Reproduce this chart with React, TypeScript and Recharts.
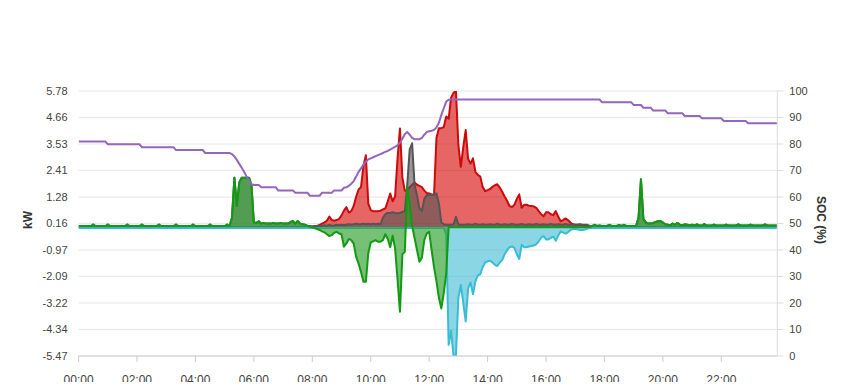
import { Area, CartesianGrid, ComposedChart, Line, XAxis, YAxis } from "recharts";

// 5-minute samples, 00:00 .. 23:55, one row per hour
const pv = [
  0, 0, 0, 0, 0, 0, 0, 0, 0, 0, 0, 0,
  0, 0, 0, 0, 0, 0, 0, 0, 0, 0, 0, 0,
  0, 0, 0, 0, 0, 0, 0, 0, 0, 0, 0, 0,
  0, 0, 0, 0, 0, 0, 0, 0, 0, 0, 0, 0,
  0, 0, 0, 0, 0, 0, 0, 0, 0, 0, 0, 0,
  0, 0, 0, 0, 0, 0, 0, 0, 0, 0, 0, 0,
  0, 0, 0, 0, 0, 0, 0, 0, 0, 0, 0, 0,
  0, 0, 0, 0, 0, 0, 0, 0, 0, 0, 0, 0,
  0, 0.02, 0.05, 0.1, 0.15, 0.2, 0.27, 0.45, 0.3, 0.27, 0.3, 0.35,
  0.5, 0.7, 0.85, 0.62, 0.68, 0.9, 1.29, 1.6, 1.7, 2.6, 3.05, 1.0,
  0.72, 0.68, 0.68, 0.68, 0.7, 0.75, 0.8, 1.1, 1.43, 1.1, 1.3, 2.9,
  4.19, 2.1, 1.55, 1.53, 1.7, 1.8, 1.9, 1.8, 1.75, 1.7, 1.55, 1.45,
  1.43, 1.38, 1.36, 3.8, 4.2, 4.2, 4.25, 4.7, 4.6, 5.5, 5.7, 5.78,
  3.49, 2.56, 3.4, 4.12, 2.9, 2.7, 2.92, 2.35, 2.22, 2.15, 1.7, 1.53,
  1.57, 1.62, 1.71, 1.78, 1.82, 1.68, 1.5, 1.3, 1.12, 0.9, 0.85, 0.95,
  1.2, 1.39, 0.82, 0.95, 0.95, 0.91, 0.9, 0.88, 0.82, 0.68, 0.55, 0.46,
  0.63, 0.63, 0.55, 0.51, 0.68, 0.45, 0.25, 0.3, 0.37, 0.3, 0.2, 0.12,
  0.1, 0.1, 0.1, 0.09, 0.07, 0.02, 0, 0, 0, 0, 0, 0,
  0, 0, 0, 0, 0, 0, 0, 0, 0, 0, 0, 0,
  0, 0, 0, 0, 0, 0, 0, 0, 0, 0, 0, 0,
  0, 0, 0, 0, 0, 0, 0, 0, 0, 0, 0, 0,
  0, 0, 0, 0, 0, 0, 0, 0, 0, 0, 0, 0,
  0, 0, 0, 0, 0, 0, 0, 0, 0, 0, 0, 0,
  0, 0, 0, 0, 0, 0, 0, 0, 0, 0, 0, 0,
];

const battery = [
  0.05, 0.05, 0.05, 0.05, 0.05, 0.05, 0.12, 0.05, 0.05, 0.05, 0.05, 0.05,
  0.12, 0.05, 0.05, 0.05, 0.05, 0.05, 0.05, 0.05, 0.12, 0.05, 0.05, 0.05,
  0.05, 0.05, 0.12, 0.05, 0.05, 0.05, 0.05, 0.05, 0.05, 0.12, 0.05, 0.05,
  0.05, 0.05, 0.05, 0.05, 0.12, 0.05, 0.05, 0.05, 0.05, 0.05, 0.05, 0.12,
  0.05, 0.05, 0.05, 0.05, 0.05, 0.05, 0.12, 0.05, 0.05, 0.05, 0.05, 0.05,
  0.05, 0.12, 0.05, 0.4, 2.1, 0.9, 1.9, 2.1, 2.1, 2.1, 2.1, 1.8,
  0.2, 0.18, 0.25, 0.15, 0.18, 0.15, 0.15, 0.15, 0.18, 0.15, 0.15, 0.18,
  0.15, 0.15, 0.15, 0.22, 0.27, 0.15, 0.27, 0.15, 0.12, 0.1, 0.05, 0.02,
  0, -0.05, -0.08, -0.12, -0.18, -0.22, -0.3, -0.38, -0.34, -0.24, -0.2, -0.27,
  -0.3, -0.83, -0.69, -0.5, -0.55, -0.7, -1.26, -1.55, -1.9, -2.32, -2.32, -1.1,
  -0.65, -0.6, -0.55, -0.62, -0.62, -0.55, -0.3, -0.5, -0.85, -0.36, -0.9, -2.2,
  -3.59, -1.15, -1.05, 1.75, 1.0, 0.05, -0.45, -0.97, -1.47, -1.3, -0.55, -0.27,
  -0.2, -0.97, -1.7, -2.3, -3.0, -3.45, -2.8, -1.96, 0, 0, 0, 0,
  0, 0, 0, 0, 0, 0, 0, 0, 0, 0, 0, 0,
  0, 0, 0, 0, 0, 0, 0, 0, 0, 0, 0, 0,
  0, 0, 0, 0, 0, 0, 0, 0, 0, 0, 0, 0,
  0, 0, 0, 0, 0, 0, 0, 0, 0, 0, 0, 0,
  0, 0, 0, 0, 0, 0, 0.02, 0.05, 0.1, 0.05, 0.07, 0.05,
  0.05, 0.05, 0.1, 0.05, 0.05, 0.05, 0.09, 0.05, 0.1, 0.05, 0.05, 0.05,
  0.05, 0.06, 0.4, 2.03, 0.35, 0.2, 0.15, 0.15, 0.18, 0.22, 0.25, 0.26,
  0.2, 0.12, 0.1, 0.08, 0.15, 0.1, 0.18, 0.1, 0.08, 0.12, 0.1, 0.08,
  0.1, 0.07, 0.12, 0.07, 0.07, 0.13, 0.07, 0.07, 0.07, 0.11, 0.07, 0.07,
  0.07, 0.07, 0.11, 0.07, 0.07, 0.07, 0.07, 0.12, 0.07, 0.07, 0.07, 0.07,
  0.11, 0.07, 0.07, 0.07, 0.07, 0.07, 0.12, 0.07, 0.07, 0.07, 0.07, 0.07,
];

const load = [
  0.05, 0.05, 0.05, 0.05, 0.05, 0.05, 0.05, 0.05, 0.05, 0.05, 0.05, 0.05,
  0.05, 0.05, 0.05, 0.05, 0.05, 0.05, 0.05, 0.05, 0.05, 0.05, 0.05, 0.05,
  0.05, 0.05, 0.05, 0.05, 0.05, 0.05, 0.05, 0.05, 0.05, 0.05, 0.05, 0.05,
  0.05, 0.05, 0.05, 0.05, 0.05, 0.05, 0.05, 0.05, 0.05, 0.05, 0.05, 0.05,
  0.05, 0.05, 0.05, 0.05, 0.05, 0.05, 0.05, 0.05, 0.05, 0.05, 0.05, 0.05,
  0.05, 0.05, 0.05, 0.4, 2.1, 0.9, 1.9, 2.1, 2.1, 2.1, 2.1, 1.8,
  0.2, 0.18, 0.25, 0.15, 0.18, 0.15, 0.15, 0.15, 0.18, 0.15, 0.15, 0.18,
  0.15, 0.15, 0.15, 0.2, 0.25, 0.15, 0.25, 0.15, 0.12, 0.1, 0.06, 0.05,
  0.04, 0.05, 0.05, 0.06, 0.05, 0.08, 0.06, 0.1, 0.06, 0.07, 0.1, 0.08,
  0.1, 0.08, 0.1, 0.12, 0.1, 0.12, 0.14, 0.12, 0.12, 0.15, 0.12, 0.14,
  0.12, 0.15, 0.12, 0.15, 0.12, 0.4, 0.55, 0.6, 0.6, 0.63, 0.6, 0.59,
  0.6, 0.65, 0.68, 1.8, 3.3, 3.56, 1.8, 1.36, 0.8, 0.68, 1.2, 1.36,
  1.36, 1.38, 1.4, 1.43, 1.0, 0.2, 0.12, 0.1, 0.1, 0.1, 0.12, 0.44,
  0.12, 0.1, 0.1, 0.1, 0.12, 0.1, 0.1, 0.15, 0.1, 0.1, 0.12, 0.1,
  0.1, 0.12, 0.1, 0.1, 0.15, 0.1, 0.1, 0.12, 0.1, 0.1, 0.14, 0.1,
  0.1, 0.1, 0.14, 0.1, 0.1, 0.12, 0.1, 0.1, 0.14, 0.1, 0.1, 0.12,
  0.1, 0.1, 0.14, 0.1, 0.1, 0.12, 0.1, 0.1, 0.14, 0.1, 0.1, 0.12,
  0.1, 0.1, 0.12, 0.1, 0.1, 0.1, 0.05, 0.05, 0.1, 0.05, 0.07, 0.05,
  0.05, 0.05, 0.1, 0.05, 0.05, 0.05, 0.09, 0.05, 0.1, 0.05, 0.05, 0.05,
  0.05, 0.06, 0.4, 2.03, 0.35, 0.2, 0.15, 0.15, 0.18, 0.22, 0.25, 0.26,
  0.2, 0.12, 0.1, 0.08, 0.15, 0.1, 0.18, 0.1, 0.08, 0.12, 0.1, 0.08,
  0.1, 0.07, 0.12, 0.07, 0.07, 0.13, 0.07, 0.07, 0.07, 0.11, 0.07, 0.07,
  0.07, 0.07, 0.11, 0.07, 0.07, 0.07, 0.07, 0.12, 0.07, 0.07, 0.07, 0.07,
  0.11, 0.07, 0.07, 0.07, 0.07, 0.07, 0.12, 0.07, 0.07, 0.07, 0.07, 0.07,
];

const grid = [
  -0.04, -0.04, -0.04, -0.04, -0.04, -0.04, -0.04, -0.04, -0.04, -0.04, -0.04, -0.04,
  -0.04, -0.04, -0.04, -0.04, -0.04, -0.04, -0.04, -0.04, -0.04, -0.04, -0.04, -0.04,
  -0.04, -0.04, -0.04, -0.04, -0.04, -0.04, -0.04, -0.04, -0.04, -0.04, -0.04, -0.04,
  -0.04, -0.04, -0.04, -0.04, -0.04, -0.04, -0.04, -0.04, -0.04, -0.04, -0.04, -0.04,
  -0.04, -0.04, -0.04, -0.04, -0.04, -0.04, -0.04, -0.04, -0.04, -0.04, -0.04, -0.04,
  -0.04, -0.04, -0.04, -0.04, -0.04, -0.04, -0.04, -0.04, -0.04, -0.04, -0.04, -0.04,
  -0.04, -0.04, -0.04, -0.04, -0.04, -0.04, -0.04, -0.04, -0.04, -0.04, -0.04, -0.04,
  -0.04, -0.04, -0.04, -0.04, -0.04, -0.04, -0.04, -0.04, -0.04, -0.04, -0.04, -0.04,
  -0.04, -0.04, -0.04, -0.04, -0.04, -0.04, -0.04, -0.04, -0.04, -0.04, -0.04, -0.04,
  -0.04, -0.04, -0.04, -0.04, -0.04, -0.04, -0.04, -0.04, -0.04, -0.04, -0.04, -0.04,
  -0.04, -0.04, -0.04, -0.04, -0.04, -0.04, -0.04, -0.04, -0.04, -0.04, -0.04, -0.04,
  -0.04, -0.04, -0.04, -0.04, -0.04, -0.04, -0.04, -0.04, -0.04, -0.04, -0.04, -0.04,
  -0.04, -0.04, -0.04, -0.04, -0.04, -0.04, -0.04, -0.3, -5.0, -4.4, -5.45, -5.45,
  -3.0, -2.45, -3.2, -4.0, -2.6, -2.35, -2.85, -2.3, -2.05, -2.0, -1.7, -1.5,
  -1.45, -1.42, -1.5, -1.6, -1.65, -1.5, -1.4, -1.15, -0.98, -0.85, -0.82, -0.88,
  -1.15, -1.35, -0.75, -0.85, -0.85, -0.82, -0.8, -0.78, -0.72, -0.6, -0.45, -0.38,
  -0.52, -0.52, -0.45, -0.4, -0.58, -0.36, -0.18, -0.22, -0.28, -0.22, -0.12, -0.08,
  -0.08, -0.1, -0.12, -0.12, -0.1, -0.06, -0.04, -0.04, -0.04, -0.04, -0.04, -0.04,
  -0.04, -0.04, -0.04, -0.04, -0.04, -0.04, -0.04, -0.04, -0.04, -0.04, -0.04, -0.04,
  -0.04, -0.04, -0.04, -0.04, -0.04, -0.04, -0.04, -0.04, -0.04, -0.04, -0.04, -0.04,
  -0.04, -0.04, -0.04, -0.04, -0.04, -0.04, -0.04, -0.04, -0.04, -0.04, -0.04, -0.04,
  -0.04, -0.04, -0.04, -0.04, -0.04, -0.04, -0.04, -0.04, -0.04, -0.04, -0.04, -0.04,
  -0.04, -0.04, -0.04, -0.04, -0.04, -0.04, -0.04, -0.04, -0.04, -0.04, -0.04, -0.04,
  -0.04, -0.04, -0.04, -0.04, -0.04, -0.04, -0.04, -0.04, -0.04, -0.04, -0.04, -0.04,
];

const soc = [
  80.9, 80.9, 80.9, 80.9, 80.9, 80.9, 80.9, 80.9, 80.9, 80.9, 80.9, 80.9,
  79.9, 79.9, 79.9, 79.9, 79.9, 79.9, 79.9, 79.9, 79.9, 79.9, 79.9, 79.9,
  79.9, 79.9, 78.8, 78.8, 78.8, 78.8, 78.8, 78.8, 78.8, 78.8, 78.8, 78.8,
  78.8, 78.8, 78.8, 78.8, 77.7, 77.7, 77.7, 77.7, 77.7, 77.7, 77.7, 77.7,
  77.7, 77.7, 77.7, 77.7, 76.6, 76.6, 76.6, 76.6, 76.6, 76.6, 76.6, 76.6,
  76.6, 76.6, 76.6, 76.2, 75.3, 74, 72.5, 71, 69.5, 67.7, 66, 64.8,
  64.5, 64.5, 64.5, 63.7, 63.7, 63.7, 63.7, 63.7, 63.7, 63.7, 62.5, 62.5,
  62.5, 62.5, 62.5, 62.5, 62.5, 61.6, 61.6, 61.6, 61.6, 61.6, 61.6, 60.5,
  60.5, 60.5, 60.5, 60.5, 61.6, 61.6, 61.6, 61.6, 61.6, 62.5, 62.5, 62.5,
  62.5, 63.5, 63.7, 64.2, 65, 66, 67.7, 69.5, 70.8, 72.2, 73.3, 74.2,
  74.6, 75, 75.4, 75.8, 76.2, 76.6, 77, 77.4, 77.9, 78.4, 78.9, 79.5,
  80.5, 82, 83.7, 84.5, 83.5, 82.3, 81.8, 81.8, 81.8, 82.3, 83.5, 84.5,
  84.8, 85, 85.3, 86.3, 88, 91, 93.5, 96, 96.7, 96.8, 96.8, 96.8,
  96.8, 96.8, 96.8, 96.8, 96.8, 96.8, 96.8, 96.8, 96.8, 96.8, 96.8, 96.8,
  96.8, 96.8, 96.8, 96.8, 96.8, 96.8, 96.8, 96.8, 96.8, 96.8, 96.8, 96.8,
  96.8, 96.8, 96.8, 96.8, 96.8, 96.8, 96.8, 96.8, 96.8, 96.8, 96.8, 96.8,
  96.8, 96.8, 96.8, 96.8, 96.8, 96.8, 96.8, 96.8, 96.8, 96.8, 96.8, 96.8,
  96.8, 96.8, 96.8, 96.8, 96.8, 96.8, 96.8, 96.8, 96.8, 96.8, 96.8, 95.8,
  95.8, 95.8, 95.8, 95.8, 95.8, 95.8, 95.8, 95.8, 95.8, 95.8, 95.8, 95.8,
  94.7, 94.7, 94.7, 94.7, 93.7, 93.7, 93.7, 93.7, 92.6, 92.6, 92.6, 92.6,
  92.6, 92.6, 91.6, 91.6, 91.6, 91.6, 91.6, 91.6, 91.6, 90.6, 90.6, 90.6,
  90.6, 90.6, 90.6, 90.6, 89.7, 89.7, 89.7, 89.7, 89.7, 89.7, 89.7, 89.7,
  89.7, 88.7, 88.7, 88.7, 88.7, 88.7, 88.7, 88.7, 88.7, 88.7, 88.7, 87.8,
  87.8, 87.8, 87.8, 87.8, 87.8, 87.8, 87.8, 87.8, 87.8, 87.8, 87.8, 87.8,
];

const kwTicks = [5.78, 4.66, 3.53, 2.41, 1.28, 0.16, -0.97, -2.09, -3.22, -4.34, -5.47];
const socTicks = [0, 10, 20, 30, 40, 50, 60, 70, 80, 90, 100];
const hourTicks = [0, 120, 240, 360, 480, 600, 720, 840, 960, 1080, 1200, 1320];

const data = pv.map((value, i) => ({
  t: i * 5,
  pv: value,
  load: load[i],
  battery: battery[i],
  grid: grid[i],
  soc: soc[i],
}));

const formatHour = (m: number) => `${String(Math.floor(m / 60)).padStart(2, "0")}:00`;

const tickStyle = { fill: "#444", fontSize: 11 };

export default function App() {
  return (
    <div style={{ fontFamily: "'Liberation Sans', Arial, sans-serif", marginBottom: -8 }}>
      <ComposedChart
        width={833}
        height={382}
        data={data}
        margin={{ top: 83, right: 0, bottom: 0, left: 0 }}
      >
        <CartesianGrid yAxisId="kw" vertical={false} stroke="#e6e6e6" />
        <XAxis
          dataKey="t"
          type="number"
          domain={[0, 1435]}
          ticks={hourTicks}
          interval={0}
          allowDataOverflow
          tickFormatter={formatHour}
          height={34}
          axisLine={{ stroke: "#ccc" }}
          tickLine={{ stroke: "#ccc" }}
          tickSize={6}
          tickMargin={13}
          tick={{ fill: "#444", fontSize: 12 }}
        />
        <YAxis
          yAxisId="kw"
          width={70.6}
          domain={[-5.47, 5.78]}
          ticks={kwTicks}
          interval={0}
          allowDataOverflow
          axisLine={false}
          tickLine={false}
          tickSize={6}
          tickMargin={5}
          tick={tickStyle}
          tickFormatter={(v: number) => v.toFixed(2)}
          label={{
            content: ({ viewBox }: any) => (
              <text
                x={viewBox.x + 20}
                y={212}
                transform={`rotate(-90, ${viewBox.x + 20}, 212)`}
                textAnchor="middle"
                dominantBaseline="central"
                fontSize={12}
                fontWeight="bold"
                fill="#333"
              >
                kW
              </text>
            ),
          }}
        />
        <YAxis
          yAxisId="soc"
          orientation="right"
          width={63.7}
          domain={[0, 100]}
          ticks={socTicks}
          interval={0}
          allowDataOverflow
          axisLine={{ stroke: "#ddd" }}
          tickLine={{ stroke: "#ddd" }}
          tickSize={6}
          tickMargin={6}
          tick={tickStyle}
          label={{
            content: ({ viewBox }: any) => (
              <text
                x={viewBox.x + 44}
                y={212}
                transform={`rotate(90, ${viewBox.x + 44}, 212)`}
                textAnchor="middle"
                dominantBaseline="central"
                fontSize={12}
                fontWeight="bold"
                fill="#333"
              >
                SOC (%)
              </text>
            ),
          }}
        />
        <Area
          yAxisId="kw"
          type="linear"
          dataKey="pv"
          baseValue={0}
          stroke="#cc0a0a"
          strokeWidth={2}
          strokeLinejoin="round"
          fill="#d50000"
          fillOpacity={0.6}
          dot={false}
          activeDot={false}
          isAnimationActive={false}
        />
        <Area
          yAxisId="kw"
          type="linear"
          dataKey="load"
          baseValue={0}
          stroke="#555"
          strokeWidth={2}
          strokeLinejoin="round"
          fill="#555"
          fillOpacity={0.6}
          dot={false}
          activeDot={false}
          isAnimationActive={false}
        />
        <Area
          yAxisId="kw"
          type="linear"
          dataKey="grid"
          baseValue={0}
          stroke="#3bbcd6"
          strokeWidth={2}
          strokeLinejoin="round"
          fill="#2cb5cf"
          fillOpacity={0.55}
          dot={false}
          activeDot={false}
          isAnimationActive={false}
        />
        <Area
          yAxisId="kw"
          type="linear"
          dataKey="battery"
          baseValue={0}
          stroke="#129a12"
          strokeWidth={2}
          strokeLinejoin="round"
          fill="#2ca02c"
          fillOpacity={0.65}
          dot={false}
          activeDot={false}
          isAnimationActive={false}
        />
        <Line
          yAxisId="soc"
          type="linear"
          dataKey="soc"
          stroke="#9467bd"
          strokeWidth={2}
          dot={false}
          activeDot={false}
          isAnimationActive={false}
        />
      </ComposedChart>
    </div>
  );
}
